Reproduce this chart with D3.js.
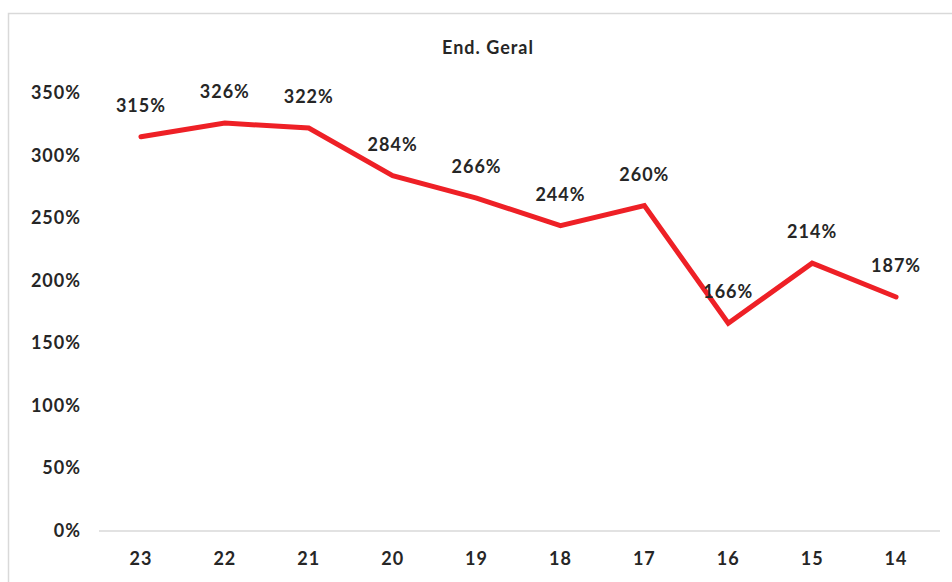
<!DOCTYPE html>
<html>
<head>
<meta charset="utf-8">
<script src="https://cdn.jsdelivr.net/npm/d3@7"></script>
<style>
  body { margin: 0; background: #fff; }
  text { font-family: Lato, "DejaVu Sans", sans-serif; font-weight: bold; fill: #262626; letter-spacing: 1px; }
</style>
</head>
<body>
<svg width="952" height="582"></svg>
<script>
// data
const years = ["23", "22", "21", "20", "19", "18", "17", "16", "15", "14"];
const values = [315, 326, 322, 284, 266, 244, 260, 166, 214, 187];
const yTicks = [0, 50, 100, 150, 200, 250, 300, 350];

const svg = d3.select("svg");

// chart frame
svg.append("rect")
    .attr("x", 8.5).attr("y", 13.5)
    .attr("width", 960).attr("height", 600)
    .attr("fill", "none")
    .attr("stroke", "#d9d9d9")
    .attr("stroke-width", 1.5);

// scales
const x = d3.scaleBand()
    .domain(years)
    .range([99, 938]);

const y = d3.scaleLinear()
    .domain([0, 350])
    .range([531, 93]);

// title
svg.append("text")
    .attr("x", 488).attr("y", 54)
    .attr("text-anchor", "middle")
    .style("font-size", "18px")
    .text("End. Geral");

// y axis labels
svg.append("g")
    .selectAll("text")
    .data(yTicks)
    .join("text")
    .attr("x", 81)
    .attr("y", d => y(d) + 6)
    .attr("text-anchor", "end")
    .style("font-size", "18px")
    .text(d => d + "%");

// baseline
svg.append("line")
    .attr("x1", 99).attr("x2", 940)
    .attr("y1", y(0)).attr("y2", y(0))
    .attr("stroke", "#d9d9d9")
    .attr("stroke-width", 1.5);

// x axis labels
svg.append("g")
    .selectAll("text")
    .data(years)
    .join("text")
    .attr("x", d => x(d) + x.bandwidth() / 2)
    .attr("y", 565)
    .attr("text-anchor", "middle")
    .style("font-size", "18px")
    .text(d => d);

// line
const line = d3.line()
    .x((d, i) => x(years[i]) + x.bandwidth() / 2)
    .y(d => y(d));

svg.append("path")
    .datum(values)
    .attr("d", line)
    .attr("fill", "none")
    .attr("stroke", "#ee2026")
    .attr("stroke-width", 5)
    .attr("stroke-linejoin", "miter")
    .attr("stroke-linecap", "round");

// data labels
svg.append("g")
    .selectAll("text")
    .data(values)
    .join("text")
    .attr("x", (d, i) => x(years[i]) + x.bandwidth() / 2)
    .attr("y", d => y(d) - 25)
    .attr("text-anchor", "middle")
    .style("font-size", "18px")
    .text(d => d + "%");
</script>
</body>
</html>
